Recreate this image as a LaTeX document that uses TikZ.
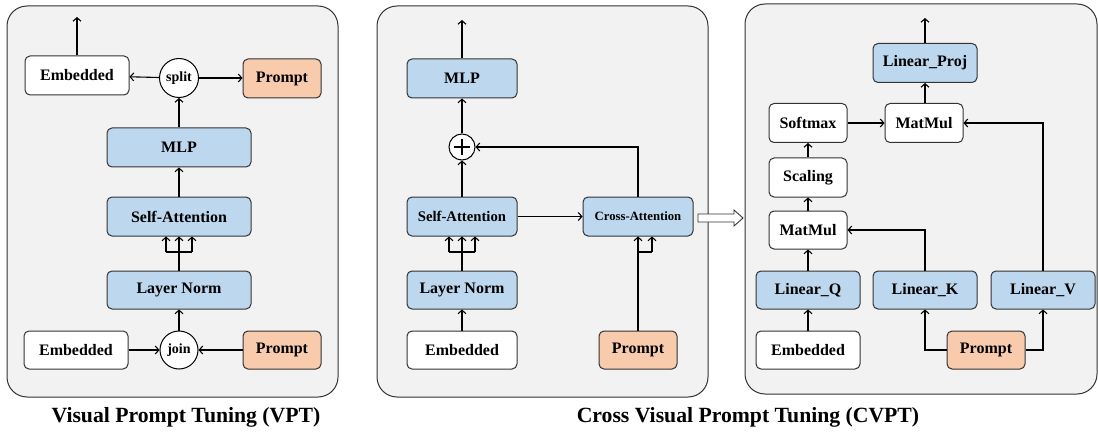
\documentclass[tikz,border=0pt]{standalone}
\usepackage{fontspec}
\setmainfont{Liberation Serif}
\usetikzlibrary{arrows.meta,calc}
\definecolor{blueC}{HTML}{BDD7EE}
\definecolor{orangeC}{HTML}{F8CBAD}
\definecolor{panelC}{HTML}{F2F2F2}
\definecolor{edgeC}{HTML}{333333}
\newcommand{\fs}[1]{\fontsize{#1}{#1}\selectfont}
\tikzset{
  box/.style={draw=edgeC, line width=1pt, rounded corners=5pt, inner sep=0pt,
    minimum height=39pt, font=\bfseries\fs{16}},
  bluebox/.style={box, fill=blueC},
  orangebox/.style={box, fill=orangeC},
  whitebox/.style={box, fill=white},
  opcircle/.style={circle, draw=black, fill=white, line width=1pt, inner sep=0pt, font=\bfseries\fs{14}},
  panel/.style={draw=edgeC, fill=panelC, line width=1pt, rounded corners=20pt},
  conn/.style={line width=1.1pt, -{Straight Barb[length=3.5pt,width=8pt,line width=1.1pt]}},
  plain/.style={line width=1.1pt},
  title/.style={font=\bfseries\fs{21.7}, inner sep=0pt}
}
\begin{document}
\begin{tikzpicture}[x=1pt,y=-1pt]
\useasboundingbox (0,0) rectangle (1098,433);
% panels
\draw[panel] (7,6) rectangle (338,397);
\draw[panel] (377,6) rectangle (708,397);
\draw[panel] (745,4) rectangle (1097,394);

% ---------- Panel 1: VPT ----------
\node[whitebox, minimum width=104pt] (emb1t) at (77,75.5) {Embedded};
\node[opcircle, minimum size=39pt] (split) at (179,78) {split};
\node[orangebox, minimum width=78pt] (pr1t) at (282,78.5) {Prompt};
\node[bluebox, minimum width=144pt] (mlp1) at (179,147.5) {MLP};
\node[bluebox, minimum width=144pt] (sa1) at (179,216.5) {Self-Attention};
\node[bluebox, minimum width=144pt, minimum height=38pt] (ln1) at (179,290) {Layer Norm};
\node[whitebox, minimum width=104pt, minimum height=38pt] (emb1b) at (76,350) {Embedded};
\node[opcircle, minimum size=38pt] (join) at (179,350) {join};
\node[orangebox, minimum width=78pt, minimum height=38pt] (pr1b) at (282,350) {Prompt};
\coordinate (out1) at (77,17);
\coordinate (b1) at (179,252);
\coordinate (b1l) at (166,252);
\coordinate (b1r) at (192,252);

\draw[conn] (emb1t.north) -- (out1);
\draw[conn] (split) -- (emb1t);
\draw[conn] (split) -- (pr1t.west |- split);
\draw[conn] (mlp1) -- (split);
\draw[conn] (sa1) -- (mlp1);
\draw[plain] (ln1.north) -- (b1);
\draw[plain] (b1l) -- (b1r);
\draw[conn] (b1) -- (sa1.south);
\draw[conn] (b1l) -- (b1l |- sa1.south);
\draw[conn] (b1r) -- (b1r |- sa1.south);
\draw[conn] (join) -- (ln1);
\draw[conn] (emb1b) -- (join);
\draw[conn] (pr1b) -- (join);

% ---------- Panel 2: CVPT ----------
\node[bluebox, minimum width=110pt] (mlp2) at (462,78.5) {MLP};
\node[circle, draw=black, fill=white, line width=1pt, minimum size=26pt, inner sep=0pt] (plus) at (462,147) {};
\draw[line width=1.2pt] ($(plus.center)+(-8,0)$) -- ($(plus.center)+(8,0)$);
\draw[line width=1.2pt] ($(plus.center)+(0,-8)$) -- ($(plus.center)+(0,8)$);
\node[bluebox, minimum width=110pt, font=\bfseries\fs{14.7}] (sa2) at (462,216.5) {Self-Attention};
\node[bluebox, minimum width=110pt, font=\bfseries\fs{12.7}] (ca2) at (638,216.5) {Cross-Attention};
\node[bluebox, minimum width=110pt, minimum height=38pt] (ln2) at (462,290) {Layer Norm};
\node[whitebox, minimum width=110pt, minimum height=38pt] (emb2) at (462,350) {Embedded};
\node[orangebox, minimum width=78pt, minimum height=38pt] (pr2) at (638,350) {Prompt};
\coordinate (out2) at (462,20);
\coordinate (b2) at (462,252);
\coordinate (b2l) at (449,252);
\coordinate (b2r) at (475,252);
\coordinate (c2) at (638,252);
\coordinate (c2r) at (652,252);

\draw[conn] (mlp2.north) -- (out2);
\draw[conn] (plus) -- (mlp2);
\draw[conn] (sa2) -- (plus);
\draw[conn] (ca2.north) |- (plus.east);
\draw[conn] (sa2) -- (ca2);
\draw[plain] (ln2.north) -- (b2);
\draw[plain] (b2l) -- (b2r);
\draw[conn] (b2) -- (sa2.south);
\draw[conn] (b2l) -- (b2l |- sa2.south);
\draw[conn] (b2r) -- (b2r |- sa2.south);
\draw[conn] (emb2) -- (ln2);
\draw[plain] (pr2.north) -- (c2) -- (c2r);
\draw[conn] (c2) -- (ca2.south);
\draw[conn] (c2r) -- (c2r |- ca2.south);

% hollow arrow
\draw[line width=0.9pt, draw=edgeC, fill=white]
  (698,214) -- (734,214) -- (734,210) -- (743,218) -- (734,226) -- (734,222) -- (698,222) -- cycle;

% ---------- Panel 3: Cross-Attention detail ----------
\node[bluebox, minimum width=104pt] (lp) at (925,63) {Linear\_Proj};
\node[whitebox, minimum width=78pt] (mm2) at (924,123) {MatMul};
\node[whitebox, minimum width=78pt] (sm) at (808,123) {Softmax};
\node[whitebox, minimum width=78pt] (sc) at (808,177.5) {Scaling};
\node[whitebox, minimum width=78pt, minimum height=38pt] (mm1) at (808,230) {MatMul};
\node[bluebox, minimum width=104pt, minimum height=38pt] (lq) at (808,290) {Linear\_Q};
\node[bluebox, minimum width=104pt, minimum height=38pt] (lk) at (925,290) {Linear\_K};
\node[bluebox, minimum width=104pt, minimum height=38pt] (lv) at (1043,290) {Linear\_V};
\node[whitebox, minimum width=104pt, minimum height=38pt] (emb3) at (808,350) {Embedded};
\node[orangebox, minimum width=78pt, minimum height=38pt] (pr3) at (986,350) {Prompt};
\coordinate (out3) at (925,18);

\draw[conn] (lp.north) -- (out3);
\draw[conn] (mm2.north -| lp) -- (lp.south);
\draw[conn] (sm) -- (mm2);
\draw[conn] (sc) -- (sm);
\draw[conn] (mm1) -- (sc);
\draw[conn] (lq) -- (mm1);
\draw[conn] (emb3) -- (lq);
\draw[conn] (lk.north) |- (mm1.east);
\draw[conn] (lv.north) |- (mm2.east);
\draw[conn] (pr3.west) -| (lk.south);
\draw[conn] (pr3.east) -| (lv.south);

% titles
\node[title] (t1) at (186,417) {Visual Prompt Tuning (VPT)};
\node[title] (t2) at (748,417) {Cross Visual Prompt Tuning (CVPT)};
\end{tikzpicture}
\end{document}
